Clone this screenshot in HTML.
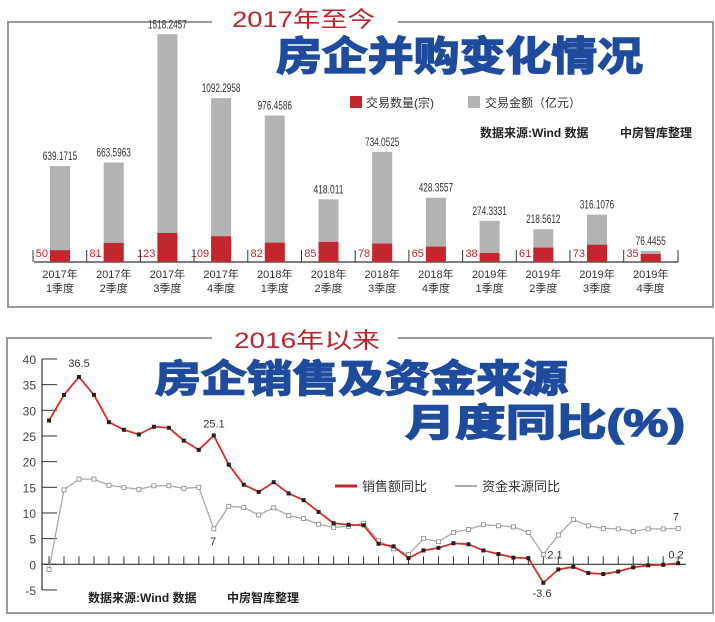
<!DOCTYPE html>
<html><head><meta charset="utf-8">
<style>
html,body{margin:0;padding:0;background:#fff;}
svg{display:block;font-family:"Liberation Sans","Noto Sans CJK SC",sans-serif;}
</style></head>
<body>
<svg id="s" width="715" height="622" viewBox="0 0 715 622" xmlns="http://www.w3.org/2000/svg">
<rect width="715" height="622" fill="#fff"/>
<path d="M212 22 H8 V307 H713 V22 H398" fill="none" stroke="#9a9a9a" stroke-width="2"/>
<text x="232" y="27" font-size="22" fill="#b8252b" textLength="143" lengthAdjust="spacingAndGlyphs">2017年至今</text>
<text x="276" y="70" font-size="40" font-weight="bold" fill="#1f4b9e" textLength="367" lengthAdjust="spacingAndGlyphs" stroke="#1f4b9e" stroke-width="1.5">房企并购变化情况</text>
<rect x="350" y="96" width="12" height="12" fill="#c1272d"/>
<text x="366" y="107" font-size="12" fill="#333">交易数量(宗)</text>
<rect x="468" y="96" width="12" height="12" fill="#b3b3b3"/>
<text x="485" y="107" font-size="12" fill="#333">交易金额（亿元）</text>
<text x="480" y="137" font-size="12" fill="#222" font-weight="bold">数据来源:Wind 数据</text>
<text x="620" y="137" font-size="12" fill="#222" font-weight="bold">中房智库整理</text>
<g id="bars"></g>
<path d="M212 338 H7 V613 H713 V338 H398" fill="none" stroke="#9a9a9a" stroke-width="2"/>
<text x="234" y="348" font-size="22" fill="#b8252b" textLength="146" lengthAdjust="spacingAndGlyphs">2016年以来</text>
<text x="155" y="392" font-size="38" font-weight="bold" fill="#1f4b9e" textLength="413" lengthAdjust="spacingAndGlyphs" stroke="#1f4b9e" stroke-width="1.5">房企销售及资金来源</text>
<text x="405" y="436" font-size="38" font-weight="bold" fill="#1f4b9e" textLength="280" lengthAdjust="spacingAndGlyphs" stroke="#1f4b9e" stroke-width="1.5">月度同比(%)</text>
<line x1="335" y1="486" x2="357" y2="486" stroke="#c1272d" stroke-width="3"/>
<text x="362" y="491" font-size="13" fill="#333">销售额同比</text>
<line x1="455" y1="486" x2="477" y2="486" stroke="#aaa" stroke-width="2"/>
<text x="482" y="491" font-size="13" fill="#333">资金来源同比</text>
<text x="88" y="602" font-size="12" fill="#222" font-weight="bold">数据来源:Wind 数据</text>
<text x="227" y="602" font-size="12" fill="#222" font-weight="bold">中房智库整理</text>
<g id="line"></g>
</svg>
<script>
var NS="http://www.w3.org/2000/svg";
function el(p,t,a,txt){var e=document.createElementNS(NS,t);for(var k in a)e.setAttribute(k,a[k]);if(txt!==undefined)e.textContent=txt;p.appendChild(e);return e;}
var B=document.getElementById("bars");
var amt=[639.1715,663.5963,1518.2457,1092.2958,976.4586,418.011,734.0525,428.3557,274.3331,218.5612,316.1076,76.4455];
var cnt=[50,81,123,109,82,85,78,65,38,61,73,35];
var lab=["2017年","2017年","2017年","2017年","2018年","2018年","2018年","2018年","2019年","2019年","2019年","2019年"];
var q=["1季度","2季度","3季度","4季度","1季度","2季度","3季度","4季度","1季度","2季度","3季度","4季度"];
var base=262;
el(B,"line",{x1:34,y1:base,x2:678,y2:base,stroke:"#333","stroke-width":1.2});
for(var i=0;i<12;i++){
 var cx=60+i*53.7;
 var h=amt[i]*0.150, hr=cnt[i]*0.236;
 if(i==11){h=11;hr=8;}
 el(B,"rect",{x:cx-10,y:base-h,width:20,height:h,fill:"#b3b3b3"});
 el(B,"rect",{x:cx-10,y:base-hr,width:20,height:hr,fill:"#c1272d"});
 var s=String(amt[i]);
 el(B,"text",{x:cx,y:base-h-6,"font-size":12,"text-anchor":"middle",fill:"#333",textLength:s.length*4.3,lengthAdjust:"spacingAndGlyphs"},s);
 el(B,"text",{x:cx-12,y:base-5,"font-size":11,"text-anchor":"end",fill:"#c1272d"},String(cnt[i]));
 el(B,"line",{x1:cx-27,y1:base-12,x2:cx-27,y2:base,stroke:"#333","stroke-width":1});
 el(B,"text",{x:cx,y:278,"font-size":11,"text-anchor":"middle",fill:"#333"},lab[i]);
 el(B,"text",{x:cx,y:292,"font-size":11,"text-anchor":"middle",fill:"#333"},q[i]);
}
el(B,"line",{x1:678,y1:base-12,x2:678,y2:base,stroke:"#333","stroke-width":1});
var L=document.getElementById("line");
function Y(v){return 564.3-v*5.133;}
function X(i){return 49+i*14.98;}
el(L,"line",{x1:42,y1:Y(40),x2:42,y2:Y(-5),stroke:"#333","stroke-width":1.2});
for(var v=-5;v<=40;v+=5){el(L,"line",{x1:42,y1:Y(v),x2:57,y2:Y(v),stroke:"#333","stroke-width":1});
 el(L,"text",{x:36,y:Y(v)+5,"font-size":12,"text-anchor":"end",fill:"#444"},String(v));}
el(L,"line",{x1:42,y1:Y(0),x2:686,y2:Y(0),stroke:"#333","stroke-width":1.2});
for(var i=0;i<43;i++)el(L,"line",{x1:X(i),y1:Y(0)-8,x2:X(i),y2:Y(0),stroke:"#333","stroke-width":1});
var red=[28,33,36.5,33,27.7,26.2,25.3,26.8,26.6,24.1,22.3,25.1,19.4,15.5,14.1,16,13.8,12.5,10.2,8.0,7.7,7.6,4.0,3.5,1.2,2.7,3.2,4.1,3.9,2.7,2.0,1.3,1.2,-3.6,-1.0,-0.5,-1.7,-1.9,-1.4,-0.6,-0.2,-0.1,0.2];
var gr=[-1,14.5,16.6,16.6,15.4,15.0,14.6,15.3,15.3,14.8,15.0,6.9,11.3,11.1,9.6,11.0,9.5,8.9,7.8,7.2,7.4,8.0,4.6,3.0,1.9,5.0,4.4,6.2,6.8,7.7,7.5,7.3,6.2,1.9,5.7,8.7,7.5,7.0,6.9,6.4,6.9,6.9,7];
var pg=gr.map(function(v,i){return X(i)+","+Y(v);}).join(" ");
el(L,"polyline",{points:pg,fill:"none",stroke:"#aaa","stroke-width":1.3});
gr.forEach(function(v,i){el(L,"rect",{x:X(i)-2,y:Y(v)-2,width:4,height:4,fill:"#fff",stroke:"#888","stroke-width":0.8});});
var pr=red.map(function(v,i){return X(i)+","+Y(v);}).join(" ");
el(L,"polyline",{points:pr,fill:"none",stroke:"#d4302a","stroke-width":1.8});
red.forEach(function(v,i){el(L,"rect",{x:X(i)-2,y:Y(v)-2,width:4,height:4,fill:"#222"});});
[[79,"36.5",Y(36.5)-10],[214,"25.1",Y(25.1)-8],[213,"7",Y(6.9)+16],[542,"-3.6",Y(-3.6)+14],[555,"2.1",Y(2.1)+5],[676,"7",Y(7)-8],[676,"0.2",Y(0.2)-5]].forEach(function(a){
 el(L,"text",{x:a[0],y:a[2],"font-size":11,"text-anchor":"middle",fill:"#333"},a[1]);});
</script>
</body></html>
